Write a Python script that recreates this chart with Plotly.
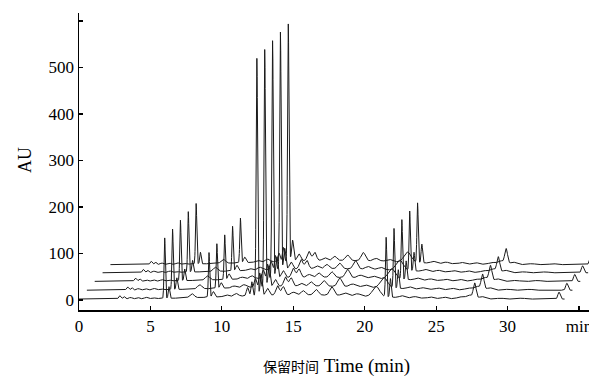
import numpy as np
import plotly.graph_objects as go

# ---- data (local retention time of the front trace, min) ----
peak_time = [2.85, 3.15, 3.6, 4.1, 4.7, 5.2, 6.0, 6.3, 7.9, 9.1, 9.4, 10.3, 11.0,
             11.8, 12.1, 12.45, 12.75, 13.2, 13.9, 14.3, 15.0, 15.7, 16.6, 17.7,
             18.6, 19.5, 20.8, 21.5, 21.8, 22.6, 23.5, 24.6, 25.6, 26.7, 27.3,
             27.7, 28.2, 29.5, 31.0, 33.6, 15.5]
peak_height = [7, 5, 3, 3, 3, 2, 130, 25, 9, 96, 12, 4, 6,
               18, 30, 510, 45, 15, 20, 18, 6, 9, 12, 18,
               6, 5, 22, 128, 40, 4, 3, 3, 3, 4, 8,
               33, 5, 2, 2, 15, 9]
peak_width = [0.07, 0.07, 0.1, 0.1, 0.1, 0.1, 0.045, 0.05, 0.15, 0.045, 0.08, 0.15, 0.15,
              0.08, 0.06, 0.05, 0.07, 0.12, 0.12, 0.12, 0.15, 0.15, 0.15, 0.15,
              0.2, 0.2, 0.25, 0.045, 0.05, 0.15, 0.15, 0.15, 0.15, 0.2, 0.2,
              0.1, 0.2, 0.2, 0.2, 0.08, 5.0]
baseline_level = 2
run_length = 34.0          # min, length of each run

# five stacked runs: time shift (min) and vertical offset (AU)
run_shift = [0.0, 0.55, 1.1, 1.65, 2.2]
run_offset = [0, 19, 38, 56.5, 74]

x_ticks = [0, 5, 10, 15, 20, 25, 30, 35]
x_tick_text = ["0", "5", "10", "15", "20", "25", "30", "min"]
y_ticks = [0, 100, 200, 300, 400, 500, 600]
y_tick_text = ["0", "100", "200", "300", "400", "500", ""]

# ---- build chromatograms ----
t_local = np.arange(0, run_length, 0.01)
signal = np.full_like(t_local, baseline_level, dtype=float)
for c, h, s in zip(peak_time, peak_height, peak_width):
    signal += h * np.exp(-0.5 * ((t_local - c) / s) ** 2)

fig = go.Figure()
for dx, dy in zip(run_shift[::-1], run_offset[::-1]):
    fig.add_trace(go.Scatter(x=t_local + dx, y=signal + dy, mode="lines",
                             line=dict(color="#1a1a1a", width=1),
                             hoverinfo="skip", showlegend=False))

W, H = 589, 376
L, R, T, B = 79, 0, 13, 66
pw, ph = W - L - R, H - T - B


def px_to_paper(px, py):
    return (px - L) / pw, (H - B - py) / ph


font_tick = dict(family="Liberation Serif, Times New Roman, serif", size=17, color="black")
ax_x, ay_x = px_to_paper(25, 160)
tx, ty = px_to_paper(336, 366)
fig.update_layout(
    width=W, height=H,
    margin=dict(l=L, r=R, t=T, b=B, autoexpand=False),
    paper_bgcolor="white", plot_bgcolor="white",
    xaxis=dict(range=[0, 35.7], tickmode="array", tickvals=x_ticks, ticktext=x_tick_text,
               ticks="inside", ticklen=4, tickwidth=1.2, tickcolor="black",
               showline=True, linecolor="black", linewidth=1.5, showgrid=False,
               zeroline=False, tickfont=font_tick, automargin=False,
               ticklabeloverflow="allow"),
    yaxis=dict(range=[-21.5, 617], tickmode="array", tickvals=y_ticks, ticktext=y_tick_text,
               ticks="inside", ticklen=4, tickwidth=1.2, tickcolor="black",
               showline=True, linecolor="black", linewidth=1.5, showgrid=False,
               zeroline=False, tickfont=font_tick, automargin=False),
    annotations=[
        dict(text="AU", x=ax_x, y=ay_x, xref="paper", yref="paper", showarrow=False,
             textangle=-90, xanchor="center", yanchor="middle",
             font=dict(family="Liberation Serif, serif", size=18, color="black")),
        dict(text="<span style='font-family:Noto Sans CJK SC;font-size:14px'>保留时间</span> Time (min)",
             x=tx, y=ty, xref="paper", yref="paper", showarrow=False,
             xanchor="center", yanchor="middle",
             font=dict(family="Liberation Serif, serif", size=19, color="black")),
    ],
)

fig.write_html("out.html", config={"displayModeBar": False, "staticPlot": True})
# remove the browser's default page margin so the figure fills the window
with open("out.html", encoding="utf-8") as f:
    html = f.read()
html = html.replace("<head>", "<head><style>html,body{margin:0;padding:0;overflow:hidden}</style>", 1)
with open("out.html", "w", encoding="utf-8") as f:
    f.write(html)
